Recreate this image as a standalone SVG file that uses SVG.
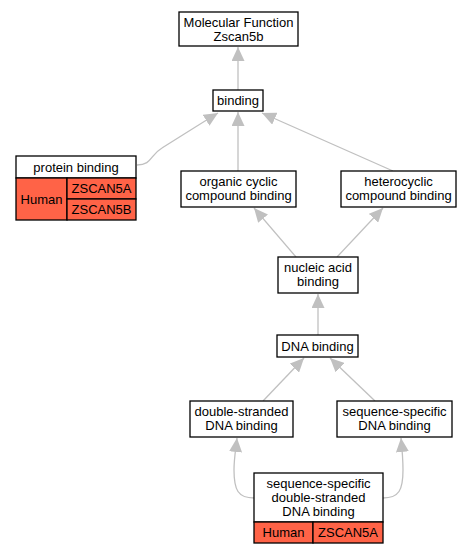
<svg xmlns="http://www.w3.org/2000/svg" width="472" height="555" viewBox="0 0 472 555">
<style>
.n{fill:#fff;stroke:#000;stroke-width:1.3}
.r{fill:#ff6347;stroke:#000;stroke-width:1.3}
text{font-family:"Liberation Sans",Arial,sans-serif;font-size:13px;text-anchor:middle;fill:#000}
.e{fill:none;stroke:#c0c0c0;stroke-width:1.3}
</style>
<defs>
<marker id="a" markerUnits="userSpaceOnUse" markerWidth="15" markerHeight="13" refX="14" refY="6.5" orient="auto">
<path d="M0,0 L14,6.5 L0,13 Z" fill="#c0c0c0"/>
</marker>
</defs>
<rect width="472" height="555" fill="#fff"/>
<g id="edges">
<path class="e" d="M238,90 L238,47" marker-end="url(#a)"/>
<path class="e" d="M238,171 L238,112" marker-end="url(#a)"/>
<path class="e" d="M393,171 L262,113" marker-end="url(#a)"/>
<path class="e" d="M137,165 C152,165 150,155 162,148 C178,138 200,124 218,113" marker-end="url(#a)"/>
<path class="e" d="M296,257 L254,208" marker-end="url(#a)"/>
<path class="e" d="M337,257 L383,208" marker-end="url(#a)"/>
<path class="e" d="M318,335 L318,294" marker-end="url(#a)"/>
<path class="e" d="M263,401 L304,358" marker-end="url(#a)"/>
<path class="e" d="M375,401 L330,358" marker-end="url(#a)"/>
<path class="e" d="M254,498 C238,498 234,490 234,470 C234,458 236,448 237,438" marker-end="url(#a)"/>
<path class="e" d="M383,498 C399,498 403,490 403,470 C403,458 402,448 401,438" marker-end="url(#a)"/>
</g>
<g id="mf">
<rect class="n" x="179" y="12" width="119" height="34"/>
<text x="238.5" y="26.5">Molecular Function</text>
<text x="238.5" y="40.5">Zscan5b</text>
</g>
<g id="binding">
<rect class="n" x="213" y="90" width="50" height="21"/>
<text x="238" y="105">binding</text>
</g>
<g id="protein">
<rect class="n" x="16" y="156" width="120" height="22"/>
<text x="76" y="171.5">protein binding</text>
<rect class="r" x="16" y="178" width="51" height="42"/>
<text x="41.5" y="203.5">Human</text>
<rect class="r" x="67" y="178" width="69" height="21"/>
<text x="101.5" y="193">ZSCAN5A</text>
<rect class="r" x="67" y="199" width="69" height="21"/>
<text x="101.5" y="214">ZSCAN5B</text>
</g>
<g id="organic">
<rect class="n" x="181" y="171" width="115" height="36"/>
<text x="238.5" y="185.5">organic cyclic</text>
<text x="238.5" y="199.5">compound binding</text>
</g>
<g id="hetero">
<rect class="n" x="341" y="171" width="115" height="36"/>
<text x="398.5" y="185.5">heterocyclic</text>
<text x="398.5" y="199.5">compound binding</text>
</g>
<g id="nucleic">
<rect class="n" x="278" y="257" width="80" height="36"/>
<text x="318" y="271.5">nucleic acid</text>
<text x="318" y="285.5">binding</text>
</g>
<g id="dna">
<rect class="n" x="277" y="335" width="81" height="22"/>
<text x="317.5" y="350.5">DNA binding</text>
</g>
<g id="ds">
<rect class="n" x="190" y="401" width="103" height="36"/>
<text x="241.5" y="415.5">double-stranded</text>
<text x="241.5" y="429.5">DNA binding</text>
</g>
<g id="ss">
<rect class="n" x="337" y="401" width="115" height="36"/>
<text x="394.5" y="415.5">sequence-specific</text>
<text x="394.5" y="429.5">DNA binding</text>
</g>
<g id="ssds">
<rect class="n" x="254" y="473" width="129" height="49"/>
<text x="318.5" y="487.5">sequence-specific</text>
<text x="318.5" y="501.5">double-stranded</text>
<text x="318.5" y="515.5">DNA binding</text>
<rect class="r" x="254" y="522" width="59" height="21"/>
<text x="283.5" y="537">Human</text>
<rect class="r" x="313" y="522" width="70" height="21"/>
<text x="348" y="537">ZSCAN5A</text>
</g>
</svg>
